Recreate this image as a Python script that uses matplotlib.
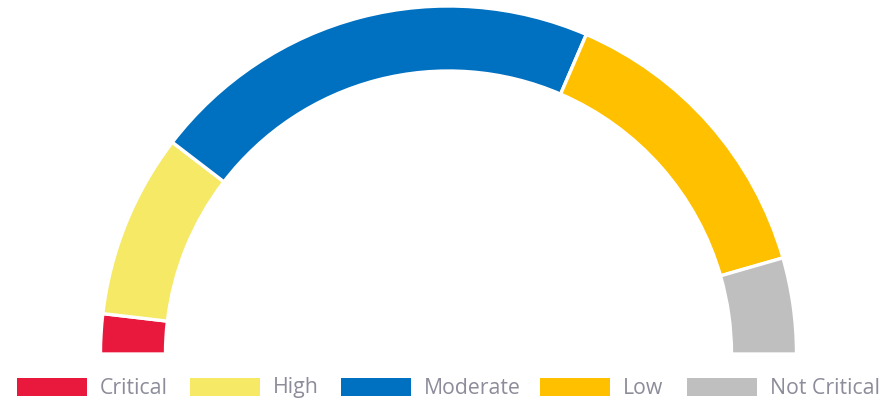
import matplotlib
matplotlib.use("Agg")
import matplotlib.pyplot as plt
from matplotlib.patches import Rectangle

categories = ["Critical", "High", "Moderate", "Low", "Not Critical"]
values = [3.7, 17.1, 42.1, 28.1, 8.9]
colors = ["#E8193C", "#F5E965", "#0070C0", "#FFC000", "#BFBFBF"]

W, H = 891, 398
fig = plt.figure(figsize=(W / 100, H / 100), dpi=100)
ax = fig.add_axes([0, 0, 1, 1])

cx, cy = 448.5, 398 - 354
r_out, ring = 348, 65

total = sum(values)
wedges, _ = ax.pie(values + [total], colors=colors + ["none"], startangle=180,
                   counterclock=False, center=(cx, cy), radius=r_out,
                   wedgeprops=dict(width=ring, edgecolor="white", linewidth=2.4),
                   frame=True)
wedges[-1].set_visible(False)

ax.set_xlim(0, W)
ax.set_ylim(0, H)
ax.set_aspect("auto")
ax.axis("off")

# legend
box_x = [17, 190, 341, 540, 687]
box_w, box_h = 70, 18
box_y = 398 - 396
for x, c, lab in zip(box_x, colors, categories):
    ax.add_patch(Rectangle((x, box_y), box_w, box_h, facecolor=c, edgecolor="none"))
    ax.text(x + box_w + 13, box_y + box_h / 2 - 1, lab, fontsize=15.3, color="#8C8C9A",
            family="Open Sans", va="center", ha="left")

fig.savefig("out.png", dpi=100)
